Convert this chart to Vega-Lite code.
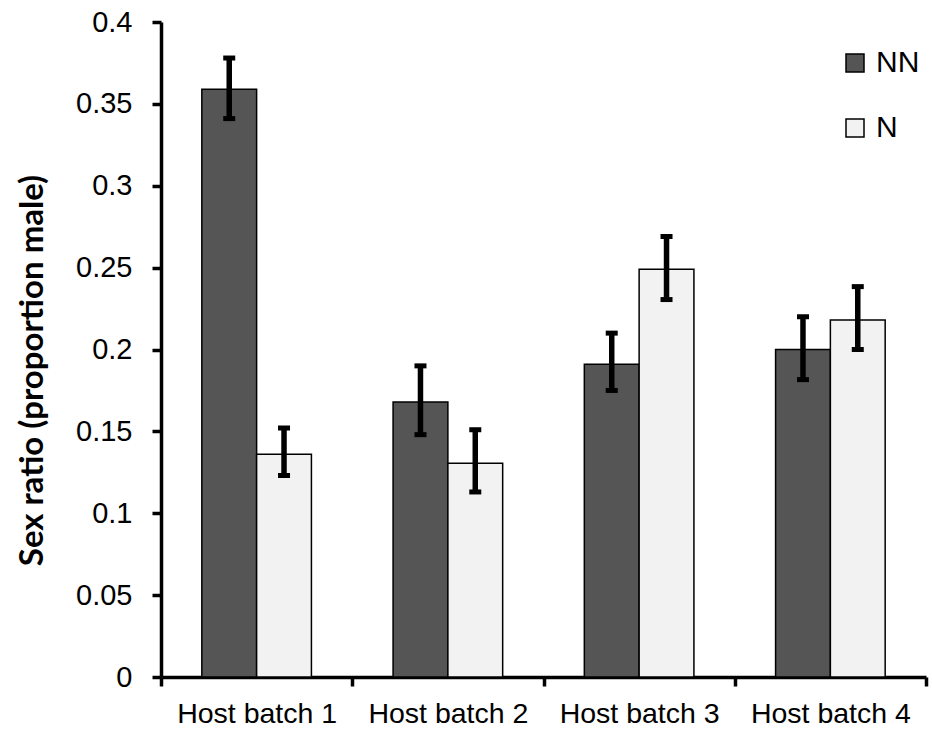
{
  "$schema": "https://vega.github.io/schema/vega-lite/v6.json",
  "width": 765,
  "height": 655,
  "autosize": {"type": "none"},
  "padding": {"left": 161, "top": 22, "right": 6, "bottom": 56},
  "background": "white",
  "config": {
    "view": {"stroke": null},
    "axis": {"grid": false, "domainColor": "black", "tickColor": "black", "labelColor": "black", "titleColor": "black", "labelFont": "Liberation Sans", "titleFont": "Lato"}
  },
  "data": {
    "values": [
      {"batch": "Host batch 1", "group": "NN", "value": 0.359, "lo": 0.341, "hi": 0.378},
      {"batch": "Host batch 1", "group": "N", "value": 0.136, "lo": 0.123, "hi": 0.152},
      {"batch": "Host batch 2", "group": "NN", "value": 0.168, "lo": 0.148, "hi": 0.190},
      {"batch": "Host batch 2", "group": "N", "value": 0.1305, "lo": 0.113, "hi": 0.151},
      {"batch": "Host batch 3", "group": "NN", "value": 0.191, "lo": 0.175, "hi": 0.210},
      {"batch": "Host batch 3", "group": "N", "value": 0.249, "lo": 0.2305, "hi": 0.269},
      {"batch": "Host batch 4", "group": "NN", "value": 0.200, "lo": 0.1816, "hi": 0.220},
      {"batch": "Host batch 4", "group": "N", "value": 0.218, "lo": 0.200, "hi": 0.2384}
    ]
  },
  "encoding": {
    "x": {
      "field": "batch",
      "type": "nominal",
      "scale": {"paddingInner": 0, "paddingOuter": 0},
      "axis": {
        "title": null,
        "labelAngle": 0,
        "labelFontSize": 28.5,
        "labelPadding": 13,
        "tickBand": "extent",
        "tickSize": 9,
        "tickWidth": 3.5,
        "domainWidth": 3.5
      }
    },
    "xOffset": {
      "field": "group",
      "type": "nominal",
      "sort": ["NN", "N"],
      "scale": {"paddingInner": 0, "paddingOuter": 0.745}
    }
  },
  "layer": [
    {
      "mark": {"type": "bar", "stroke": "black", "strokeWidth": 1.5},
      "encoding": {
        "y": {
          "field": "value",
          "type": "quantitative",
          "scale": {"domain": [0, 0.4], "nice": false},
          "axis": {
            "title": "Sex ratio (proportion male)",
            "titleFontSize": 33,
            "titleFontWeight": "bold",
            "titlePadding": 26,
            "titleY": 348,
            "values": [0, 0.05, 0.1, 0.15, 0.2, 0.25, 0.3, 0.35, 0.4],
            "format": ".2~f",
            "labelFontSize": 29,
            "labelPadding": 20,
            "tickSize": 9,
            "tickWidth": 3.5,
            "domainWidth": 3.5
          }
        },
        "color": {
          "field": "group",
          "type": "nominal",
          "scale": {"domain": ["NN", "N"], "range": ["#555555", "#f2f2f2"]},
          "legend": {
            "title": null,
            "orient": "none",
            "legendX": 679,
            "legendY": 26,
            "padding": 0,
            "symbolType": "square",
            "symbolSize": 324,
            "symbolStrokeColor": "black",
            "symbolStrokeWidth": 1.5,
            "symbolOpacity": 1,
            "labelFontSize": 30,
            "labelFont": "Liberation Sans",
            "labelColor": "black",
            "labelOffset": 6,
            "rowPadding": 35
          }
        }
      }
    },
    {
      "mark": {"type": "rule", "color": "black", "strokeWidth": 5.5},
      "encoding": {
        "y": {"field": "lo", "type": "quantitative"},
        "y2": {"field": "hi"}
      }
    },
    {
      "mark": {"type": "tick", "color": "black", "size": 12, "thickness": 5, "opacity": 1},
      "encoding": {
        "y": {"field": "lo", "type": "quantitative"}
      }
    },
    {
      "mark": {"type": "tick", "color": "black", "size": 12, "thickness": 5, "opacity": 1},
      "encoding": {
        "y": {"field": "hi", "type": "quantitative"}
      }
    }
  ]
}
